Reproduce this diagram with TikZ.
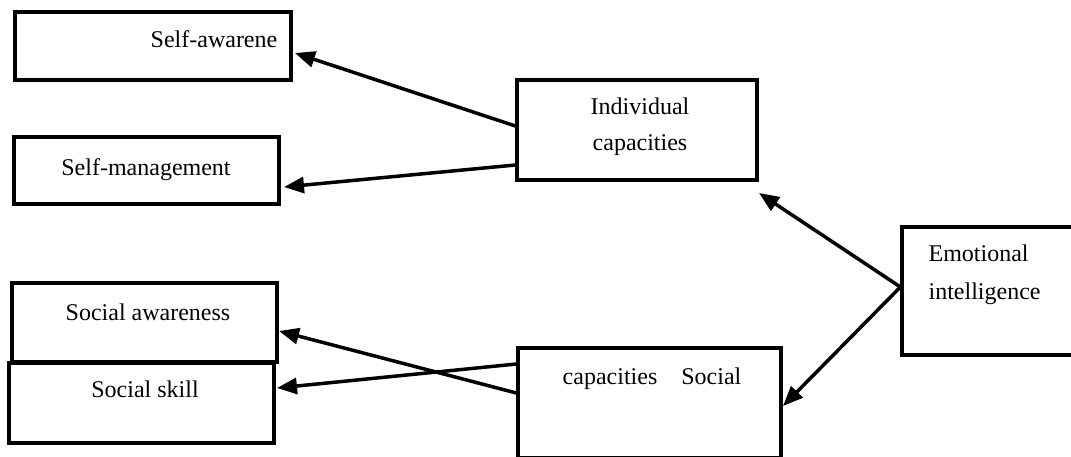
\documentclass[tikz,border=0pt]{standalone}
\usepackage{fontspec}
\setmainfont{Liberation Serif}
\usetikzlibrary{arrows.meta}

\begin{document}
\begin{tikzpicture}[x=0.5pt, y=-0.5pt, line width=1.6pt,
        box/.style={draw, rectangle, inner sep=0pt},
        lbl/.style={anchor=base, inner sep=0pt, font=\fontsize{12}{14}\selectfont},
        conn/.style={line width=1.75pt, -{Triangle[length=10pt, width=8pt]}}]
        \useasboundingbox (0,0) rectangle (1071,456);

        % boxes
        \node[box, minimum width=138pt, minimum height=34pt] (aware) at (153,46) {};
        \node[box, minimum width=132.5pt, minimum height=33.5pt] (manage) at (146.5,170.5) {};
        \node[box, minimum width=132.5pt, minimum height=39.5pt] (saware) at (144.5,322.5) {};
        \node[box, minimum width=132.5pt, minimum height=40pt] (sskill) at (141.5,403) {};
        \node[box, minimum width=120pt, minimum height=50pt] (indiv) at (637,130) {};
        \node[box, minimum width=90pt, minimum height=64pt] (emo) at (992,291) {};
        \node[box, minimum width=131.5pt, minimum height=55pt] (social) at (649.5,403) {};

        % labels
        \node[lbl] (awaretxt) at (214,47) {Self-awarene};
        \node[lbl] (managetxt) at (146,175) {Self-management};
        \node[lbl] (sawaretxt) at (148,320) {Social awareness};
        \node[lbl] (sskilltxt) at (145,397) {Social skill};
        \node[lbl] (indivtxt) at (640,114) {Individual};
        \node[lbl] (indivtxtb) at (640,150) {capacities};
        \node[lbl, anchor=base west] (emotxt) at (927,261) {Emotional};
        \node[lbl, anchor=base west] (emotxtb) at (927,299) {intelligence};
        \node[lbl] (socialtxt) at (652,384) {capacities\quad Social};

        % arrow tips
        \coordinate (tipaware) at (295,53);
        \coordinate (tipmanage) at (284,187);
        \coordinate (tipindiv) at (759,193);
        \coordinate (tipsocial) at (783,406);
        \coordinate (tipskill) at (277,388);
        \coordinate (tipsaware) at (279,331);

        \draw[conn] ([yshift=2pt]indiv.west) -- (tipaware);
        \draw[conn] ([yshift=-17.5pt]indiv.west) -- (tipmanage);
        \draw[conn] ([yshift=2pt]emo.west) -- (tipindiv);
        \draw[conn] ([yshift=2pt]emo.west) -- (tipsocial);
        \draw[conn] ([yshift=19.5pt]social.west) -- (tipskill);
        \draw[conn] ([yshift=5pt]social.west) -- (tipsaware);
    \end{tikzpicture}
\end{document}
